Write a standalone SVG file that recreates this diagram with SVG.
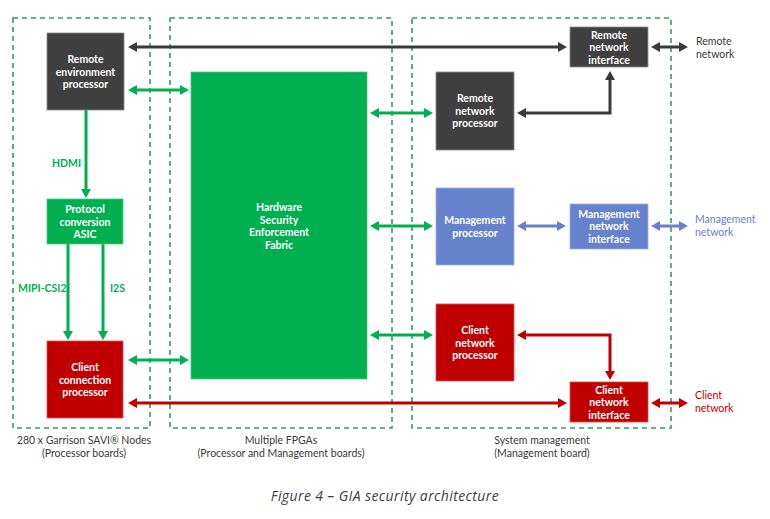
<svg xmlns="http://www.w3.org/2000/svg" width="770" height="519" viewBox="0 0 770 519">
<defs>
<style>
.zone{fill:none;stroke:#2e9e5a;stroke-width:1.6;stroke-dasharray:5,4}
.nt{font-family:Lato,"Open Sans","Liberation Sans",sans-serif;font-size:10.5px;font-weight:700;fill:#fff;text-anchor:middle}
.cap{font-family:Lato,"Open Sans","Liberation Sans",sans-serif;font-size:10.5px;fill:#3a3a3a;text-anchor:middle}
.lbl{font-family:Lato,"Open Sans","Liberation Sans",sans-serif;font-size:10.5px;font-weight:700;fill:#00b050}
.ext{font-family:Lato,"Open Sans","Liberation Sans",sans-serif;font-size:10.5px}
.dk{fill:#404040;stroke:#8a8a8a;stroke-width:0.8}
.gr{fill:#00b050;stroke:#4cc97f;stroke-width:0.8}
.bl{fill:#6782cc;stroke:#9bb0e6;stroke-width:0.8}
.rd{fill:#c00000;stroke:#d85050;stroke-width:0.8}
.a{fill:none;stroke-width:3}
.ak{stroke:#3a3a3a;marker-start:url(#mk);marker-end:url(#mk)}
.ag{stroke:#00b050;marker-start:url(#mg);marker-end:url(#mg)}
.agd{stroke:#00b050;marker-end:url(#mg)}
.ab{stroke:#6782cc;marker-start:url(#mb);marker-end:url(#mb)}
.ar{stroke:#c00000;marker-start:url(#mr);marker-end:url(#mr)}
</style>
<marker id="mk" markerUnits="userSpaceOnUse" markerWidth="10" markerHeight="11" refX="0" refY="5" orient="auto-start-reverse"><path d="M0,0 L9,5 L0,10 z" fill="#3a3a3a"/></marker>
<marker id="mg" markerUnits="userSpaceOnUse" markerWidth="10" markerHeight="11" refX="0" refY="5" orient="auto-start-reverse"><path d="M0,0 L9,5 L0,10 z" fill="#00b050"/></marker>
<marker id="mb" markerUnits="userSpaceOnUse" markerWidth="10" markerHeight="11" refX="0" refY="5" orient="auto-start-reverse"><path d="M0,0 L9,5 L0,10 z" fill="#6782cc"/></marker>
<marker id="mr" markerUnits="userSpaceOnUse" markerWidth="10" markerHeight="11" refX="0" refY="5" orient="auto-start-reverse"><path d="M0,0 L9,5 L0,10 z" fill="#c00000"/></marker>
</defs>
<rect width="770" height="519" fill="#fff"/>

<g id="zones">
<rect class="zone" x="13" y="18" width="137" height="410"/>
<rect class="zone" x="170" y="18" width="222" height="410"/>
<rect class="zone" x="412" y="18" width="259" height="410"/>
<text class="cap" x="84" y="444">280 x Garrison SAVI® Nodes</text>
<text class="cap" x="84" y="457">(Processor boards)</text>
<text class="cap" x="281" y="444">Multiple FPGAs</text>
<text class="cap" x="281" y="457">(Processor and Management boards)</text>
<text class="cap" x="542" y="444">System management</text>
<text class="cap" x="542" y="457">(Management board)</text>
</g>

<g id="connectors">
<line class="a ak" x1="137" y1="47" x2="558" y2="47"/>
<line class="a ag" x1="137" y1="90" x2="180" y2="90"/>
<line class="a agd" x1="86" y1="110" x2="86" y2="189"/>
<line class="a agd" x1="68" y1="244" x2="68" y2="331"/>
<line class="a agd" x1="103" y1="244" x2="103" y2="331"/>
<line class="a ag" x1="137" y1="360" x2="180" y2="360"/>
<line class="a ar" x1="137" y1="403" x2="558" y2="403"/>
<line class="a ag" x1="379" y1="113" x2="424" y2="113"/>
<line class="a ag" x1="379" y1="226" x2="424" y2="226"/>
<line class="a ag" x1="379" y1="335" x2="424" y2="335"/>
<polyline class="a ak" points="526,113 610,113 610,80"/>
<line class="a ab" x1="526" y1="226" x2="557" y2="226"/>
<polyline class="a ar" points="526,335 610,335 610,371"/>
<line class="a ak" x1="660" y1="47" x2="679" y2="47"/>
<line class="a ab" x1="660" y1="226" x2="679" y2="226"/>
<line class="a ar" x1="660" y1="403" x2="679" y2="403"/>
<text class="lbl" x="52" y="167">HDMI</text>
<text class="lbl" x="18" y="292">MIPI-CSI2</text>
<text class="lbl" x="110" y="292">I2S</text>
<text class="ext" x="696" y="45" fill="#3a3a3a">Remote</text>
<text class="ext" x="696" y="58" fill="#3a3a3a">network</text>
<text class="ext" x="695" y="223" fill="#6782cc">Management</text>
<text class="ext" x="695" y="236" fill="#6782cc">network</text>
<text class="ext" x="695" y="399" fill="#c00000">Client</text>
<text class="ext" x="695" y="412" fill="#c00000">network</text>
</g>

<g id="remote-env-proc">
<rect class="dk" x="47" y="33" width="77" height="77"/>
<text class="nt" x="85.5" y="63">Remote</text>
<text class="nt" x="85.5" y="75.5">environment</text>
<text class="nt" x="85.5" y="88">processor</text>
</g>
<g id="protocol-asic">
<rect class="gr" x="47" y="199" width="76" height="45"/>
<text class="nt" x="85" y="213">Protocol</text>
<text class="nt" x="85" y="225.5">conversion</text>
<text class="nt" x="85" y="238">ASIC</text>
</g>
<g id="client-conn-proc">
<rect class="rd" x="47" y="341" width="76" height="77"/>
<text class="nt" x="85" y="371">Client</text>
<text class="nt" x="85" y="383.5">connection</text>
<text class="nt" x="85" y="396">processor</text>
</g>
<g id="fabric">
<rect class="gr" x="191" y="72" width="176" height="307"/>
<text class="nt" x="279" y="211">Hardware</text>
<text class="nt" x="279" y="223.5">Security</text>
<text class="nt" x="279" y="236">Enforcement</text>
<text class="nt" x="279" y="248.5">Fabric</text>
</g>
<g id="remote-net-if">
<rect class="dk" x="570" y="27" width="78" height="40"/>
<text class="nt" x="609" y="38.5">Remote</text>
<text class="nt" x="609" y="51">network</text>
<text class="nt" x="609" y="63.5">interface</text>
</g>
<g id="remote-net-proc">
<rect class="dk" x="436" y="72" width="78" height="78"/>
<text class="nt" x="475" y="102">Remote</text>
<text class="nt" x="475" y="114.5">network</text>
<text class="nt" x="475" y="127">processor</text>
</g>
<g id="mgmt-proc">
<rect class="bl" x="436" y="188" width="78" height="77"/>
<text class="nt" x="475" y="224">Management</text>
<text class="nt" x="475" y="236.5">processor</text>
</g>
<g id="mgmt-net-if">
<rect class="bl" x="570" y="204" width="78" height="45"/>
<text class="nt" x="609" y="217.5">Management</text>
<text class="nt" x="609" y="230">network</text>
<text class="nt" x="609" y="242.5">interface</text>
</g>
<g id="client-net-proc">
<rect class="rd" x="436" y="304" width="78" height="77"/>
<text class="nt" x="475" y="334">Client</text>
<text class="nt" x="475" y="346.5">network</text>
<text class="nt" x="475" y="359">processor</text>
</g>
<g id="client-net-if">
<rect class="rd" x="570" y="382" width="78" height="40"/>
<text class="nt" x="609" y="393.5">Client</text>
<text class="nt" x="609" y="406">network</text>
<text class="nt" x="609" y="418.5">interface</text>
</g>

<text x="385" y="501" text-anchor="middle" font-family="'Open Sans','Liberation Sans',sans-serif" font-style="italic" font-size="14" letter-spacing="0.4" fill="#3c3c48">Figure 4 – GIA security architecture</text>
</svg>
